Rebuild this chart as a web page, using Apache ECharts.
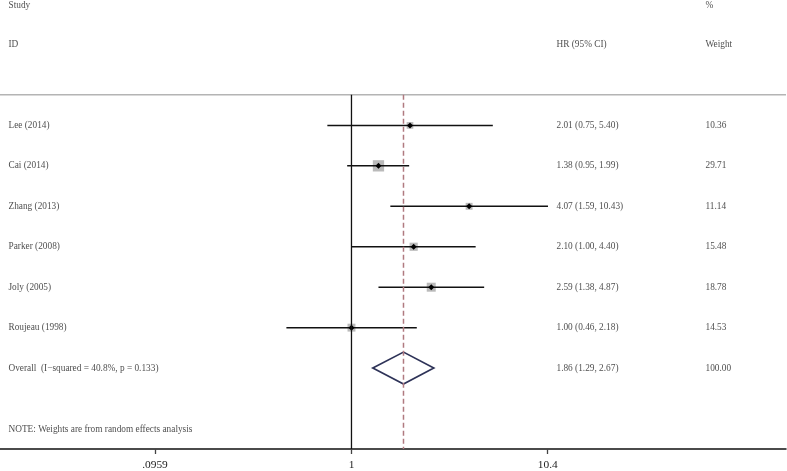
<!DOCTYPE html>
<html>
<head>
<meta charset="utf-8">
<script src="https://cdn.jsdelivr.net/npm/echarts@6/dist/echarts.min.js"></script>
<style>
html,body{margin:0;padding:0;background:#fff;}
#chart{width:787px;height:471px;}
</style>
</head>
<body>
<div id="chart"></div>
<script>
// ---- data ----
const studies = ['Lee (2014)', 'Cai (2014)', 'Zhang (2013)', 'Parker (2008)', 'Joly (2005)', 'Roujeau (1998)'];
const hr      = [2.01, 1.38, 4.07, 2.10, 2.59, 1.00];
const ciLow   = [0.75, 0.95, 1.59, 1.00, 1.38, 0.46];
const ciHigh  = [5.40, 1.99, 10.43, 4.40, 4.87, 2.18];
const weights = [10.36, 29.71, 11.14, 15.48, 18.78, 14.53];
const overallLabel = 'Overall  (I\u2212squared = 40.8%, p = 0.133)';
const overallHR = 1.86, overallLow = 1.29, overallHigh = 2.67, overallWeight = 100.00;
const noteText = 'NOTE: Weights are from random effects analysis';
const headers = { study1: 'Study', study2: 'ID', hr: 'HR (95% CI)', w1: '%', w2: 'Weight' };
const tickValues = [0.0959, 1, 10.4];
const tickLabels = ['.0959', '1', '10.4'];

// ---- layout constants ----
const FONT = 'Liberation Serif';
const FS = 9.3;
const colStudy = 8, colHR = 556, colW = 705;
const rowHeader1 = -1.97, rowHeader2 = -1.0, rowRule = 0.243, rowNote = 8.51;
const rowOverall = studies.length + 1;
const yMin = -2.1, yMax = 9.0;
const xMin = 0.01509, xMax = 178.5;

const chart = echarts.init(document.getElementById('chart'), null, { renderer: 'canvas' });

function fmt(v) { return v.toFixed(2); }

// text items
const textItems = [];
function addText(col, row, txt) {
  textItems.push({ value: [col, row], label: { formatter: txt } });
}
addText(colStudy, rowHeader1, headers.study1);
addText(colStudy, rowHeader2, headers.study2);
addText(colHR, rowHeader2, headers.hr);
addText(colW, rowHeader1, headers.w1);
addText(colW, rowHeader2, headers.w2);
studies.forEach((s, i) => {
  const r = i + 1;
  addText(colStudy, r, s);
  addText(colHR, r, fmt(hr[i]) + ' (' + fmt(ciLow[i]) + ', ' + fmt(ciHigh[i]) + ')');
  addText(colW, r, fmt(weights[i]));
});
addText(colStudy, rowOverall, overallLabel);
addText(colHR, rowOverall, fmt(overallHR) + ' (' + fmt(overallLow) + ', ' + fmt(overallHigh) + ')');
addText(colW, rowOverall, fmt(overallWeight));
addText(colStudy, rowNote, noteText);

const studyData = studies.map((s, i) => [ciLow[i], ciHigh[i], hr[i], i + 1, weights[i]]);

const option = {
  animation: false,
  grid: { left: 0, right: 1, top: 0, bottom: 21, containLabel: false },
  xAxis: [
    {
      type: 'log', logBase: 10, min: xMin, max: xMax, position: 'bottom',
      axisLine: { show: true, onZero: false, lineStyle: { color: '#111', width: 1.5 } },
      axisTick: { show: true, customValues: tickValues, length: 5, lineStyle: { color: '#444', width: 1.3 } },
      axisLabel: {
        show: true, customValues: tickValues, margin: 11,
        fontFamily: FONT, fontSize: 11.4, color: '#222',
        formatter: function (v) {
          let best = 0, bd = Infinity;
          tickValues.forEach((t, i) => { const d = Math.abs(Math.log(v) - Math.log(t)); if (d < bd) { bd = d; best = i; } });
          return tickLabels[best];
        }
      },
      splitLine: { show: false }, minorTick: { show: false }, minorSplitLine: { show: false }
    },
    { type: 'value', min: 0, max: 786, show: false }
  ],
  yAxis: [
    { type: 'value', inverse: true, min: yMin, max: yMax, show: false, splitLine: { show: false } }
  ],
  series: [
    // top rule
    {
      type: 'line', xAxisIndex: 1, yAxisIndex: 0, symbol: 'none', silent: true,
      data: [[0, rowRule], [786, rowRule]],
      lineStyle: { color: '#b4b4b4', width: 1.5 }
    },
    // null line at 1
    {
      type: 'line', xAxisIndex: 0, yAxisIndex: 0, symbol: 'none', silent: true,
      data: [[1, rowRule], [1, yMax]],
      lineStyle: { color: '#111', width: 1.3 }
    },
    // overall effect dashed line
    {
      type: 'line', xAxisIndex: 0, yAxisIndex: 0, symbol: 'none', silent: true,
      data: [[overallHR, rowRule], [overallHR, yMax]],
      lineStyle: { color: '#b07a80', width: 1.5, type: [5, 3] }
    },
    // studies
    {
      type: 'custom', xAxisIndex: 0, yAxisIndex: 0, silent: true,
      encode: { x: [0, 1, 2], y: 3 },
      data: studyData,
      renderItem: function (params, api) {
        const row = api.value(3);
        const p1 = api.coord([api.value(0), row]);
        const p2 = api.coord([api.value(1), row]);
        const c = api.coord([api.value(2), row]);
        const s = 2.073 * Math.sqrt(api.value(4));
        const m = 3;
        return {
          type: 'group',
          children: [
            { type: 'rect', shape: { x: c[0] - s / 2, y: c[1] - s / 2, width: s, height: s }, style: { fill: '#bababa' } },
            { type: 'line', shape: { x1: p1[0], y1: p1[1], x2: p2[0], y2: p2[1] }, style: { stroke: '#111', lineWidth: 1.5 } },
            { type: 'polygon', shape: { points: [[c[0] - m, c[1]], [c[0], c[1] - m], [c[0] + m, c[1]], [c[0], c[1] + m]] }, style: { fill: '#000' } }
          ]
        };
      }
    },
    // overall diamond
    {
      type: 'custom', xAxisIndex: 0, yAxisIndex: 0, silent: true,
      encode: { x: [0, 1, 2], y: 3 },
      data: [[overallLow, overallHigh, overallHR, rowOverall]],
      renderItem: function (params, api) {
        const row = api.value(3);
        const l = api.coord([api.value(0), row]);
        const r = api.coord([api.value(1), row]);
        const c = api.coord([api.value(2), row]);
        const h = 16;
        return {
          type: 'polygon',
          shape: { points: [[l[0], l[1]], [c[0], c[1] - h], [r[0], r[1]], [c[0], c[1] + h]] },
          style: { fill: 'none', stroke: '#2e3358', lineWidth: 1.7 }
        };
      }
    },
    // texts
    {
      type: 'scatter', xAxisIndex: 1, yAxisIndex: 0, silent: true,
      symbolSize: 1, itemStyle: { color: 'rgba(0,0,0,0)' },
      data: textItems,
      label: {
        show: true, position: 'right', distance: 0,
        fontFamily: FONT, fontSize: FS, color: '#1a1a1a', verticalAlign: 'middle'
      }
    }
  ]
};
chart.setOption(option);
</script>
</body>
</html>
